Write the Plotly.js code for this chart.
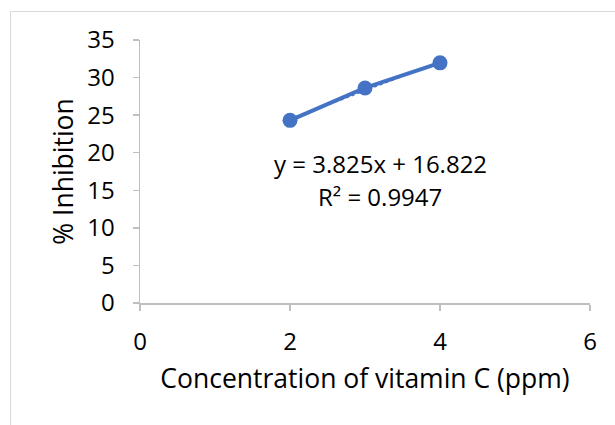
<!DOCTYPE html>
<html>
<head>
<meta charset="utf-8">
<script src="https://cdn.plot.ly/plotly-3.0.1.min.js"></script>
<style>
html,body{margin:0;padding:0;background:#fff;overflow:hidden;}
#frame{position:absolute;left:10px;top:11px;width:700px;height:500px;border:1.5px solid #D9D9D9;box-sizing:border-box;}
#chart{position:absolute;left:0;top:0;width:615px;height:425px;}
</style>
</head>
<body>
<div id="frame"></div>
<div id="chart"></div>
<script>
// Data
const concentration = [2, 3, 4];            // ppm
const inhibition = [24.31, 28.62, 31.96];   // %
const xTicks = [0, 2, 4, 6];
const yTicks = [0, 5, 10, 15, 20, 25, 30, 35];
const equationText = "y = 3.825x + 16.822";
const r2Text = "R² = 0.9947";

// Linear least-squares fit of the data (trendline)
const n = concentration.length;
const mx = concentration.reduce((a,b)=>a+b,0)/n;
const my = inhibition.reduce((a,b)=>a+b,0)/n;
let sxy = 0, sxx = 0;
for (let i = 0; i < n; i++) { sxy += (concentration[i]-mx)*(inhibition[i]-my); sxx += (concentration[i]-mx)**2; }
const slope = sxy/sxx, intercept = my - slope*mx;
const trendX = [Math.min(...concentration), Math.max(...concentration)];
const trendY = trendX.map(x => slope*x + intercept);

const blue = '#4472C4';
const font = '"Open Sans", "Noto Sans", sans-serif';
const tickSize = 24, titleSize = 26.5, annSize = 24;

const traces = [
  {x: trendX, y: trendY, type: 'scatter', mode: 'lines',
   line: {color: blue, width: 2, dash: 'dot'}, hoverinfo: 'skip', showlegend: false},
  {x: concentration, y: inhibition, type: 'scatter', mode: 'lines+markers',
   line: {color: blue, width: 4}, marker: {color: blue, size: 15}, showlegend: false}
];

const layout = {
  width: 615, height: 425,
  margin: {l: 140, r: 25, t: 40, b: 122},
  paper_bgcolor: 'rgba(0,0,0,0)', plot_bgcolor: 'rgba(0,0,0,0)',
  font: {family: font, color: '#000', size: tickSize},
  xaxis: {
    range: [0, 6], tickvals: xTicks, ticktext: xTicks.map(String),
    showgrid: false, zeroline: false, showline: true, linecolor: '#BFBFBF', linewidth: 1.5,
    ticks: 'outside', ticklen: 6, tickcolor: '#BFBFBF', tickwidth: 1.5,
    ticklabelstandoff: 11,
    tickfont: {family: font, size: tickSize, color: '#000'},
    title: {text: 'Concentration of vitamin C (ppm)', font: {family: font, size: titleSize, color: '#000'}, standoff: 13},
    fixedrange: true
  },
  yaxis: {
    range: [0, 35], tickvals: yTicks, ticktext: yTicks.map(String),
    showgrid: false, zeroline: false, showline: true, linecolor: '#BFBFBF', linewidth: 1.5,
    ticks: 'outside', ticklen: 6, tickcolor: '#BFBFBF', tickwidth: 1.5,
    ticklabelstandoff: 13,
    tickfont: {family: font, size: tickSize, color: '#000'},
    title: {text: '% Inhibition', font: {family: font, size: titleSize, color: '#000'}, standoff: 6},
    fixedrange: true
  },
  annotations: [
    {x: 3.2, y: 18.6, xref: 'x', yref: 'y', text: equationText, showarrow: false,
     font: {family: font, size: annSize, color: '#000'}, xanchor: 'center', yanchor: 'middle'},
    {x: 3.2, y: 14.2, xref: 'x', yref: 'y', text: r2Text, showarrow: false,
     font: {family: font, size: annSize, color: '#000'}, xanchor: 'center', yanchor: 'middle'}
  ]
};

Plotly.newPlot('chart', traces, layout, {displayModeBar: false, staticPlot: true});
</script>
</body>
</html>
